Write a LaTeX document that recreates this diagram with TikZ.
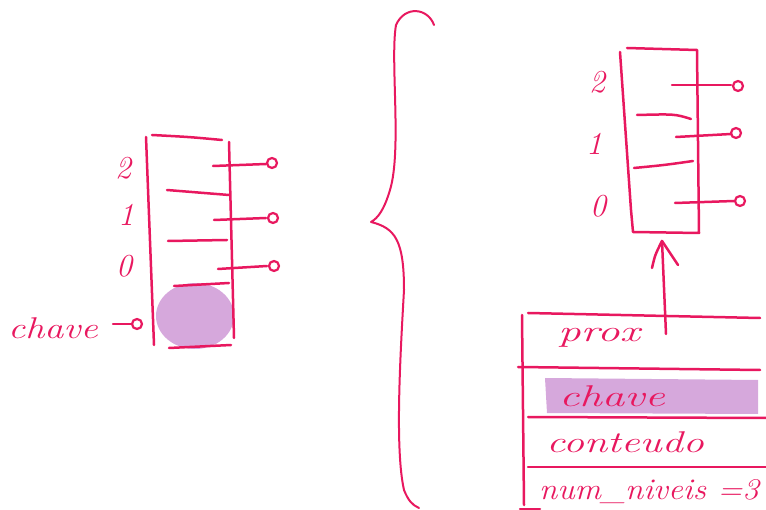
\documentclass[tikz,border=0pt]{standalone}
\usepackage{fontspec}
\usepackage{graphicx}
\usetikzlibrary{arrows.meta}
\definecolor{ink}{HTML}{E8185F}
\definecolor{lilac}{HTML}{D6A8DC}
\newcommand\wideby[2]{\scalebox{#1}[1]{#2}}
\tikzset{
  pen/.style={draw=ink, line width=2.5pt, line cap=round, line join=round},
  tip/.style={draw=ink, line width=2.2pt, fill=white},
  lbl/.style={text=ink, font=\fontsize{32}{32}\selectfont\itshape, inner sep=0pt},
  cell/.style={text=ink, font=\fontsize{30}{30}\selectfont\itshape, inner sep=0pt}
}
\begin{document}
\begin{tikzpicture}[x=1pt,y=-1pt]
\useasboundingbox (0,0) rectangle (766,510);
% ---------- left tower ----------
\fill[lilac] (195,316) ellipse [x radius=39, y radius=33];
\draw[pen] (146,137) -- (154,345);
\draw[pen] (229,142) -- (234,338);
\draw[pen] (152,135) .. controls (190,137) .. (222,140);
\draw[pen] (167,190) -- (229,195);
\draw[pen] (168,241) -- (227,240);
\draw[pen] (174,286) -- (229,283);
\draw[pen] (169,348) -- (231,345);
% pointers
\coordinate (lp2) at (213,166); \coordinate (lq2) at (266,164);
\coordinate (lp1) at (214,220); \coordinate (lq1) at (266,218);
\coordinate (lp0) at (218,269); \coordinate (lq0) at (267,266);
\draw[pen] (lp2) -- (lq2); \draw[tip] (272,163) circle [radius=5];
\draw[pen] (lp1) -- (lq1); \draw[tip] (273,218) circle [radius=5];
\draw[pen] (lp0) -- (lq0); \draw[tip] (274,266) circle [radius=5];
\node[lbl] (l2) at (123,168) {2};
\node[lbl] (l1) at (126,215) {1};
\node[lbl] (l0) at (124,266) {0};
\node[cell] (lchave) at (53,328) {\wideby{1.27}{chave}};
\coordinate (ca) at (113,324); \coordinate (cb) at (132,324);
\draw[pen] (ca) -- (cb); \draw[tip] (137,324) circle [radius=5];
% ---------- brace ----------
\draw[pen, line width=2pt] (434,25) .. controls (428,8) and (405,5) .. (396,25)
  .. controls (390,60) and (402,150) .. (390,190)
  .. controls (384,210) and (378,218) .. (371,222)
  .. controls (395,228) and (404,240) .. (404,290)
  .. controls (400,360) and (395,450) .. (404,490)
  .. controls (408,500) and (412,505) .. (419,508);
% ---------- right tower ----------
\draw[pen] (620,52) -- (631,210) -- (633,232) -- (699,233) -- (697,50) -- (627,48);
\draw[pen] (637,115) .. controls (675,114) .. (691,119);
\draw[pen] (634,168) .. controls (665,165) .. (693,161);
\coordinate (rp2) at (672,85); \coordinate (rq2) at (731,85);
\coordinate (rp1) at (676,137); \coordinate (rq1) at (731,134);
\coordinate (rp0) at (675,203); \coordinate (rq0) at (734,201);
\draw[pen] (rp2) -- (rq2); \draw[tip] (738,86) circle [radius=5];
\draw[pen] (rp1) -- (rq1); \draw[tip] (736,133) circle [radius=5];
\draw[pen] (rp0) -- (rq0); \draw[tip] (740,201) circle [radius=5];
\node[lbl] (r2) at (597,82) {2};
\node[lbl] (r1) at (594,144) {1};
\node[lbl] (r0) at (598,206) {0};
% ---------- record box ----------
\fill[lilac] (545,378) -- (758,380) -- (758,414) -- (547,413) -- cycle;
\draw[pen] (522,315) -- (524,505);
\draw[pen] (528,313) -- (760,318);
\draw[pen] (518,367) -- (760,370);
\draw[pen] (528,417) -- (766,418);
\draw[pen] (528,467) -- (766,467);
\draw[pen] (520,509) -- (540,509);
\node[cell] (prox) at (599,338) {\wideby{1.5}{prox}};
\node[cell] (chave) at (612,396) {\wideby{1.5}{chave}};
\node[cell] (conteudo) at (625,442) {\wideby{1.4}{conteudo}};
\node[cell] (niv) at (649,492) {\wideby{1.1}{num\_niveis =3}};
% arrow up to tower
\coordinate (from) at (666,334); \coordinate (to) at (662,241);
\draw[pen] (from) -- (to);
\draw[pen] (652,268) .. controls (655,255) .. (662,241) .. controls (670,253) .. (678,265);
\end{tikzpicture}
\end{document}
